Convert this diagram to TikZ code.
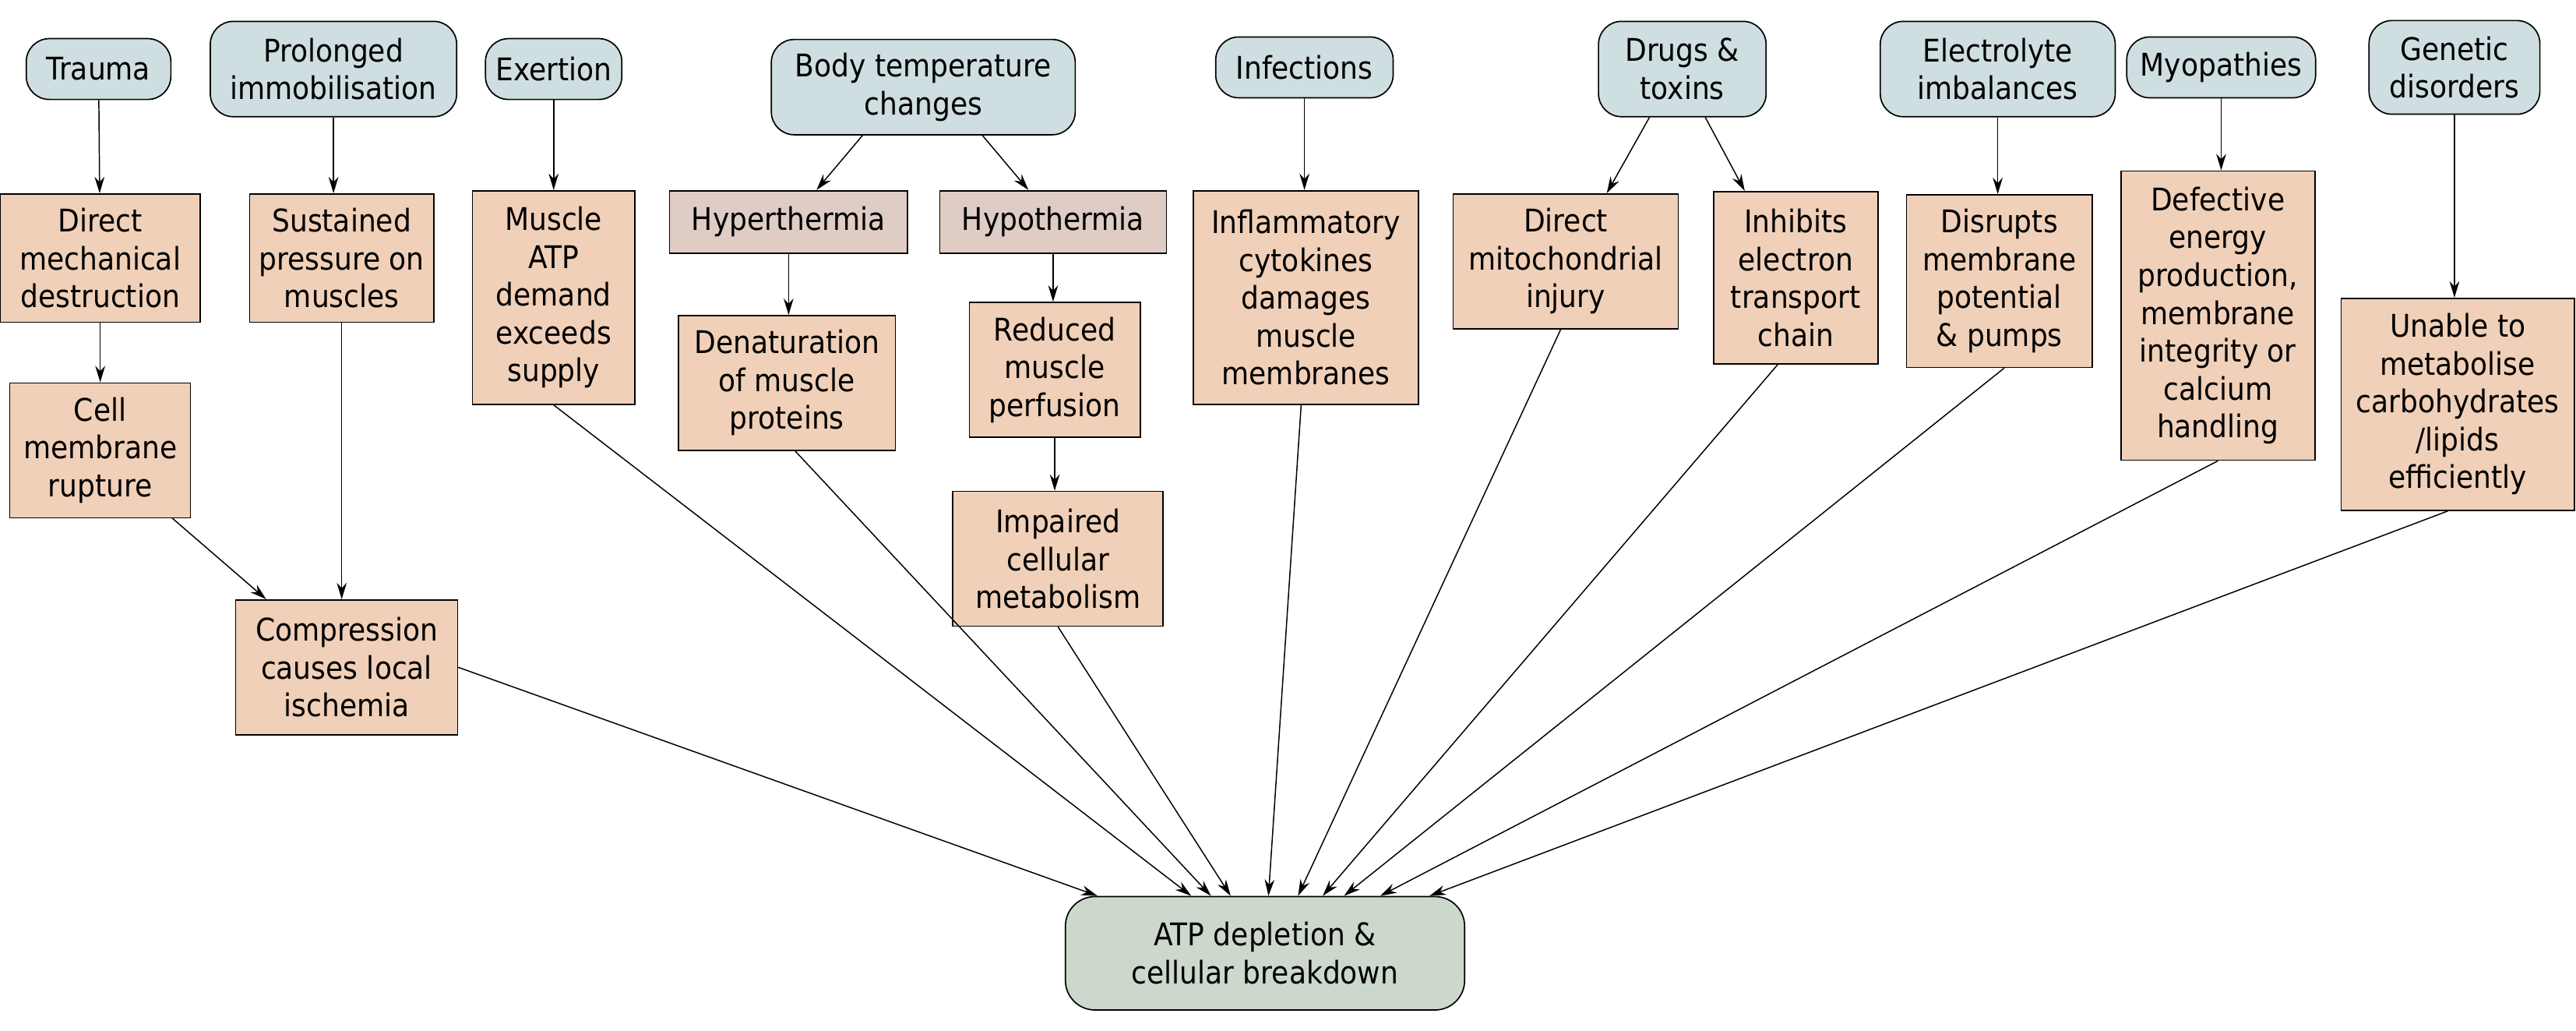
\documentclass[tikz,border=0pt]{standalone}
\usepackage{fontspec}
\setmainfont{DejaVu Sans Condensed}
\usetikzlibrary{arrows.meta,calc}
\begin{document}
\begin{tikzpicture}[x=1pt,y=-1pt,
  base/.style={draw=black,line width=0.8pt,align=center,inner sep=1pt,font=\fontsize{19}{23}\selectfont},
  pill/.style={base,fill=pillc,rounded corners=14pt},
  obox/.style={base,fill=boxc},
  pbox/.style={base,fill=pinkc},
  arr/.style={-{Stealth[length=10pt,width=6pt]},line width=0.7pt}]
\definecolor{pillc}{HTML}{CFDEE0}
\definecolor{boxc}{HTML}{F0D0B8}
\definecolor{pinkc}{HTML}{DFCCC4}
\definecolor{atpc}{HTML}{CDD8CD}
\useasboundingbox (0,0) rectangle (1568,627);
\newcommand{\bx}[6]{\node[#1,minimum width=#4pt,minimum height=#5pt] (#2) at #3 {#6};}
\bx{pill}{trauma}{(60,42)}{88}{37}{Trauma}
\bx{pill}{prol}{(203,42)}{150}{58}{Prolonged\\immobilisation}
\bx{pill}{exer}{(337,42)}{83}{37}{Exertion}
\bx{pill}{body}{(562,53)}{185}{58}{Body temperature\\changes}
\bx{pill}{inf}{(794,41)}{108}{37}{Infections}
\bx{pill}{drug}{(1024,42)}{102}{58}{Drugs \&\\toxins}
\bx{pill}{elec}{(1216,42)}{143}{58}{Electrolyte\\imbalances}
\bx{pill}{myo}{(1352,41)}{115}{37}{Myopathies}
\bx{pill}{gen}{(1494,41)}{104}{57}{Genetic\\disorders}
\bx{obox}{dmd}{(61,157)}{122}{78}{Direct\\mechanical\\destruction}
\bx{obox}{cmr}{(61,274)}{110}{82}{Cell\\membrane\\rupture}
\bx{obox}{spm}{(208,157)}{112}{78}{Sustained\\pressure on\\muscles}
\bx{obox}{comp}{(211,406)}{135}{82}{Compression\\causes local\\ischemia}
\bx{obox}{matp}{(337,181)}{99}{130}{Muscle\\ATP\\demand\\exceeds\\supply}
\bx{pbox}{hyper}{(480,135)}{145}{38}{Hyperthermia}
\bx{pbox}{hypo}{(641,135)}{138}{38}{Hypothermia}
\bx{obox}{den}{(479,233)}{132}{82}{Denaturation\\of muscle\\proteins}
\bx{obox}{red}{(642,225)}{104}{82}{Reduced\\muscle\\perfusion}
\bx{obox}{imp}{(644,340)}{128}{82}{Impaired\\cellular\\metabolism}
\bx{obox}{infl}{(795,181)}{137}{130}{Inflammatory\\cytokines\\damages\\muscle\\membranes}
\bx{obox}{mito}{(953,159)}{137}{82}{Direct\\mitochondrial\\injury}
\bx{obox}{inh}{(1093,169)}{100}{105}{Inhibits\\electron\\transport\\chain}
\bx{obox}{dis}{(1217,171)}{113}{105}{Disrupts\\membrane\\potential\\\& pumps}
\bx{obox}{def}{(1350,192)}{118}{176}{Defective\\energy\\production,\\membrane\\integrity or\\calcium\\handling}
\bx{obox}{una}{(1496,246)}{142}{129}{Unable to\\metabolise\\carbohydrates\\/lipids\\efficiently}
\node[base,fill=atpc,rounded corners=18pt,minimum width=243pt,minimum height=69pt] (atp) at (770,580) {ATP depletion \&\\cellular breakdown};
% top-level arrows
\draw[arr] (trauma) -- (dmd);
\draw[arr] (prol) -- (prol|-spm.north);
\draw[arr] (exer) -- (matp);
\draw[arr] (inf) -- (inf|-infl.north);
\draw[arr] (elec) -- (elec|-dis.north);
\draw[arr] (myo) -- (myo|-def.north);
\draw[arr] (gen) -- (gen|-una.north);
\draw[arr] ($(body.south)+(-37,0)$) -- ($(hyper.north)+(17,0)$);
\draw[arr] ($(body.south)+(36,0)$) -- ($(hypo.north)+(-15,0)$);
\draw[arr] ($(drug.south)+(-20,0)$) -- ($(mito.north)+(25,0)$);
\draw[arr] ($(drug.south)+(14,0)$) -- ($(inh.north)+(-31,0)$);
\draw[arr] (hyper) -- (hyper|-den.north);
\draw[arr] (hypo) -- (hypo|-red.north);
\draw[arr] (red) -- (red|-imp.north);
\draw[arr] (dmd) -- (dmd|-cmr.north);
\draw[arr] ($(cmr.south)+(44,0)$) -- ($(comp.north)+(-49,0)$);
\draw[arr] (spm) -- (spm|-comp.north);
% into ATP
\draw[arr] (comp.east) -- ($(atp.north west)+(20,0)$);
\draw[arr] (matp.south) -- ($(atp.north west)+(77,0)$);
\draw[arr] ($(den.south)+(5,0)$) -- ($(atp.north west)+(89,0)$);
\draw[arr] (imp.south) -- ($(atp.north west)+(101,0)$);
\draw[arr] ($(infl.south)+(-3,0)$) -- ($(atp.north west)+(124,0)$);
\draw[arr] ($(mito.south)+(-3,0)$) -- ($(atp.north west)+(142,0)$);
\draw[arr] ($(inh.south)+(-11,0)$) -- ($(atp.north west)+(157,0)$);
\draw[arr] ($(dis.south)+(3,0)$) -- ($(atp.north west)+(170,0)$);
\draw[arr] (def.south) -- ($(atp.north west)+(192,0)$);
\draw[arr] ($(una.south)+(-6,0)$) -- ($(atp.north west)+(222,0)$);
\end{tikzpicture}
\end{document}
